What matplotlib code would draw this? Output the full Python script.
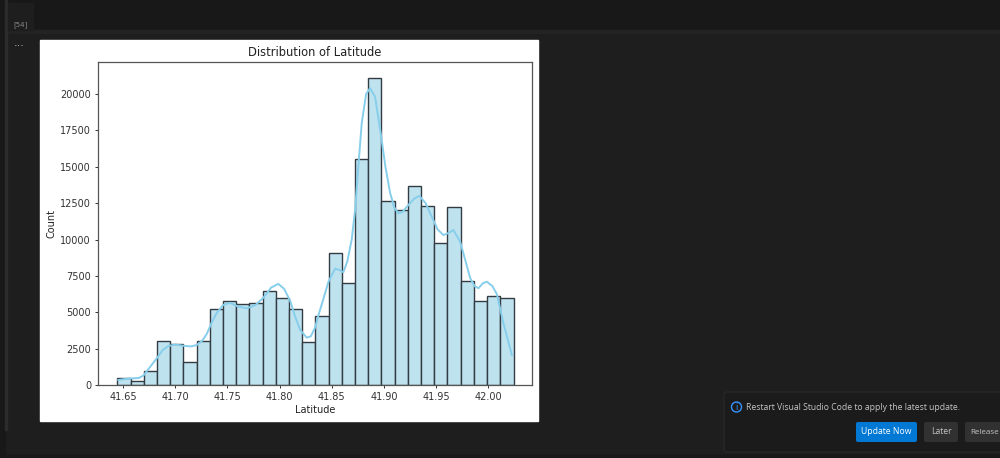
import matplotlib
matplotlib.use("Agg")
import matplotlib.pyplot as plt
from matplotlib.patches import Rectangle, FancyBboxPatch, Circle

# histogram bins
bin_start = 41.6445
bin_width = 0.01266
counts = [500, 250, 950, 3050, 2850, 1550, 3050, 5250, 5800, 5600,
          5650, 6450, 6000, 5250, 2950, 4750, 9050, 7000, 15550, 21100,
          12650, 12000, 13650, 12300, 9750, 12250, 7150, 5800, 6100, 6000]

# kde line
kde_x = [41.6455, 41.6527, 41.6599, 41.6650, 41.6695, 41.6760, 41.6823, 41.6880, 41.6934,
         41.7000, 41.7078, 41.7150, 41.7207, 41.7260, 41.7302, 41.7350, 41.7398, 41.7460,
         41.7526, 41.7600, 41.7686, 41.7770, 41.7845, 41.7920, 41.7989, 41.8045, 41.8101,
         41.8150, 41.8197, 41.8261, 41.8300, 41.8341, 41.8373, 41.8420, 41.8469, 41.8533,
         41.8575, 41.8612, 41.8650, 41.8692, 41.8724, 41.8755, 41.8788, 41.8830, 41.8868,
         41.8916, 41.8970, 41.9015, 41.9060, 41.9100, 41.9140, 41.9180, 41.9220, 41.9290,
         41.9340, 41.9400, 41.9460, 41.9515, 41.9571, 41.9620, 41.9667, 41.9731, 41.9780,
         41.9827, 41.9870, 41.9907, 41.9950, 41.9987, 42.0040, 42.0083, 42.0146, 42.0227]
kde_y = [344, 420, 458, 480, 650, 1250, 1833, 2400, 2680,
         2780, 2700, 2650, 2750, 3050, 3500, 4300, 4950, 5500,
         5650, 5400, 5270, 5500, 6000, 6700, 6950, 6600, 5800,
         4700, 3800, 3250, 3350, 3950, 4800, 5900, 7100, 8000,
         7900, 7750, 8500, 10000, 12000, 15000, 18000, 20000, 20400,
         19800, 17300, 15000, 13200, 12200, 11800, 11900, 12250, 12800,
         13000, 12500, 11550, 10700, 10300, 10450, 10650, 9850, 8600,
         7350, 6800, 6650, 7000, 7100, 6800, 6250, 4250, 2050]

xticks = [41.65, 41.70, 41.75, 41.80, 41.85, 41.90, 41.95, 42.00]
yticks = [0, 2500, 5000, 7500, 10000, 12500, 15000, 17500, 20000]

W, H = 1000, 458
fig = plt.figure(figsize=(W / 100, H / 100), dpi=100, facecolor="#1e1e1e")

# editor window behind the notebook output, in pixels
ui = fig.add_axes([0, 0, 1, 1])
ui.set_xlim(0, W)
ui.set_ylim(H, 0)
ui.axis("off")
ui.add_patch(Rectangle((0, 0), W, 32, color="#181818"))
ui.add_patch(Rectangle((0, 30), W, 3, color="#232323"))
ui.add_patch(Rectangle((0, 0), 5, H, color="#181818"))
ui.add_patch(Rectangle((5, 0), 2, 430, color="#2c2c2c"))
ui.add_patch(Rectangle((8, 3), 25, 27, color="#1e1e1e"))
ui.add_patch(Rectangle((0, 455), W, 3, color="#181818"))
ui.add_patch(Rectangle((40, 40), 498, 381, color="white"))
ui.text(21, 25, "[54]", color="#8a8a8a", fontsize=5, ha="center", va="center")
ui.text(19, 43, "...", color="#c0c0c0", fontsize=8, ha="center", va="center")

# update notification
ui.add_patch(FancyBboxPatch((724, 392), 290, 60, boxstyle="round,pad=0,rounding_size=3",
                            fc="#1b1b1b", ec="#2a2a2a", lw=0.8))
ui.add_patch(Circle((736.5, 407), 5, fc="none", ec="#3794ff", lw=1))
ui.text(736.5, 407, "i", color="#3794ff", fontsize=6, ha="center", va="center")
ui.text(746, 408, "Restart Visual Studio Code to apply the latest update.", color="#c4c4c4",
        fontsize=6.2, family="Open Sans", ha="left", va="center")
ui.add_patch(FancyBboxPatch((856, 422), 61, 20, boxstyle="round,pad=0,rounding_size=2",
                            fc="#0078d4", ec="none"))
ui.text(886.5, 432, "Update Now", color="white", fontsize=6.2, family="Open Sans", ha="center", va="center")
ui.add_patch(FancyBboxPatch((924, 422), 34, 20, boxstyle="round,pad=0,rounding_size=2",
                            fc="#313131", ec="none"))
ui.text(941, 432, "Later", color="#c4c4c4", fontsize=6.2, family="Open Sans", ha="center", va="center")
ui.add_patch(FancyBboxPatch((965, 422), 50, 20, boxstyle="round,pad=0,rounding_size=2",
                            fc="#313131", ec="none"))
ui.text(970, 432, "Release", color="#c4c4c4", fontsize=5.8, family="Open Sans", ha="left", va="center")

# the chart itself
ax = fig.add_axes([98 / W, 1 - 385 / H, 434 / W, 323 / H], facecolor="white")
lefts = [bin_start + i * bin_width for i in range(len(counts))]
ax.bar(lefts, counts, width=bin_width, align="edge", color="#bfe2ef",
       edgecolor="#333c42", linewidth=1.0)
ax.plot(kde_x, kde_y, color="#87ceeb", linewidth=1.4, solid_joinstyle="round")
ax.set_xlim(41.626, 42.042)
ax.set_ylim(0, 22200)
ax.set_xticks(xticks)
ax.set_xticklabels(["%.2f" % t for t in xticks])
ax.set_yticks(yticks)
ax.tick_params(labelsize=7, length=2.5, width=0.7, pad=2.5, colors="#333333")
for s in ax.spines.values():
    s.set_linewidth(0.9)
    s.set_color("#555555")
ax.set_title("Distribution of Latitude", fontsize=8.3, color="#222222", pad=4)
ax.set_xlabel("Latitude", fontsize=7, color="#222222", labelpad=2)
ax.set_ylabel("Count", fontsize=7, color="#222222", labelpad=3)

fig.savefig("out.png", dpi=100, facecolor=fig.get_facecolor())
